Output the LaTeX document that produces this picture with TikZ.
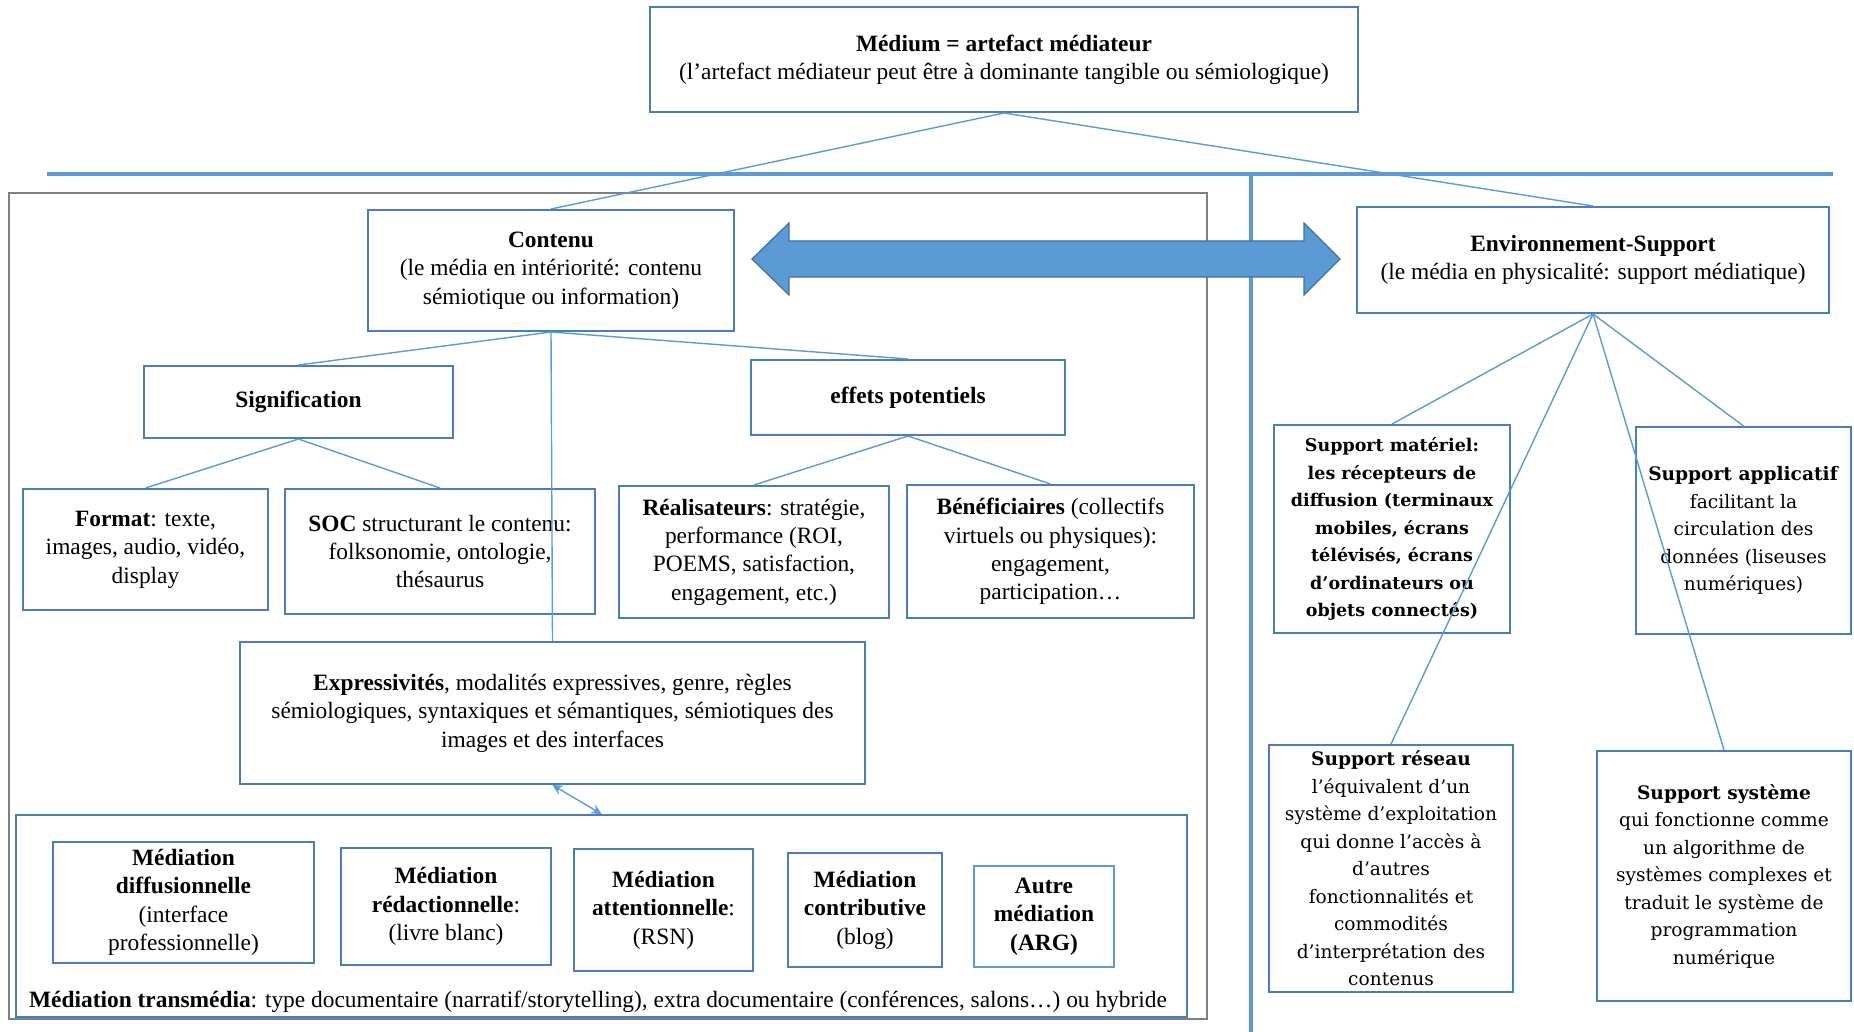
\documentclass[tikz,border=0pt]{standalone}
\usepackage{fontspec}
\setmainfont{Liberation Serif}
\newfontfamily\seriflarge{DejaVu Serif}
\usetikzlibrary{arrows.meta}

\definecolor{bleubord}{HTML}{4A7EBB}
\definecolor{bleuclair}{HTML}{5B9BD5}
\definecolor{bleufonce}{HTML}{41719C}

\tikzset{
    boite/.style={draw=bleubord, line width=2pt, align=center, inner sep=0pt,
        font=\fontsize{23.4}{28.4}\selectfont},
    boitesupport/.style={boite, font=\seriflarge\fontsize{18.6}{27.5}\selectfont},
    boitegras/.style={boite, font=\seriflarge\bfseries\fontsize{17.5}{27.5}\selectfont},
    trait/.style={draw=bleuclair, line width=1.4pt},
    barre/.style={draw=bleuclair, line width=4.5pt}
}

\begin{document}
\begin{tikzpicture}[x=1pt,y=-1pt]
        \useasboundingbox (0,0) rectangle (1854,1032);

        %%%%%%%%%% Cadres %%%%%%%%%%
        \draw[barre] (47,174) -- (1833,174);
        \draw[barre] (1251,174) -- (1251,1032);
        \draw[gray, line width=1.5pt] (9,193) rectangle (1207,1019);

        %%%%%%%%%% Noeuds %%%%%%%%%%
        \node[boite, minimum width=708, minimum height=105] (medium) at (1004,59.5)
            {\textbf{Médium = artefact médiateur}\\(l’artefact médiateur peut être à dominante tangible ou sémiologique)};
        \node[boite, minimum width=366, minimum height=121] (contenu) at (551,270.5)
            {\textbf{Contenu}\\(le média en intériorité: contenu\\sémiotique ou information)};
        \node[boite, minimum width=472, minimum height=106] (environnement) at (1593,260)
            {\textbf{Environnement-Support}\\(le média en physicalité: support médiatique)};

        \node[boite, minimum width=309, minimum height=72] (signification) at (298.5,402)
            {\textbf{Signification}};
        \node[boite, minimum width=314, minimum height=75] (effets) at (908,397.5)
            {\textbf{effets potentiels}};

        \node[boite, minimum width=245, minimum height=121] (format) at (145.5,549.5)
            {\textbf{Format}: texte,\\images, audio, vidéo,\\display};
        \node[boite, minimum width=310, minimum height=125] (soc) at (440,551.5)
            {\textbf{SOC} structurant le contenu:\\folksonomie, ontologie,\\thésaurus};
        \node[boite, minimum width=270, minimum height=132] (realisateurs) at (754,552)
            {\textbf{Réalisateurs}: stratégie,\\performance (ROI,\\POEMS, satisfaction,\\engagement, etc.)};
        \node[boite, minimum width=287, minimum height=133] (beneficiaires) at (1050.5,551.5)
            {\textbf{Bénéficiaires} (collectifs\\virtuels ou physiques):\\engagement,\\participation…};

        \node[boite, minimum width=625, minimum height=142] (expressivites) at (552.5,713)
            {\textbf{Expressivités}, modalités expressives, genre, règles\\sémiologiques, syntaxiques et sémantiques, sémiotiques des\\images et des interfaces};

        \node[boite, minimum width=1171, minimum height=202] (transmedia) at (601.5,916) {};
        \node[font=\fontsize{23.4}{28.4}\selectfont] (legende) at (598,1002)
            {\textbf{Médiation transmédia}: type documentaire (narratif/storytelling), extra documentaire (conférences, salons…) ou hybride};

        \node[boite, minimum width=261, minimum height=121] (diffusionnelle) at (183.5,902.5)
            {\textbf{Médiation}\\\textbf{diffusionnelle}\\(interface\\professionnelle)};
        \node[boite, minimum width=210, minimum height=117] (redactionnelle) at (446,906.5)
            {\textbf{Médiation}\\\textbf{rédactionnelle}:\\(livre blanc)};
        \node[boite, minimum width=179, minimum height=122] (attentionnelle) at (663.5,910)
            {\textbf{Médiation}\\\textbf{attentionnelle}:\\(RSN)};
        \node[boite, minimum width=154, minimum height=114] (contributive) at (865,910)
            {\textbf{Médiation}\\\textbf{contributive}\\(blog)};
        \node[boite, draw=bleuclair, minimum width=140, minimum height=101] (autre) at (1044,916.5)
            {\textbf{Autre}\\\textbf{médiation}\\\textbf{(ARG)}};

        \node[boitegras, minimum width=236, minimum height=208] (materiel) at (1392,529)
            {Support matériel:\\les récepteurs de\\diffusion (terminaux\\mobiles, écrans\\télévisés, écrans\\d’ordinateurs ou\\objets connectés)};
        \node[boitesupport, minimum width=215, minimum height=207] (applicatif) at (1743.5,530.5)
            {\textbf{Support applicatif}\\facilitant la\\circulation des\\données (liseuses\\numériques)};
        \node[boitesupport, minimum width=244, minimum height=247] (reseau) at (1391,868.5)
            {\textbf{Support réseau}\\l’équivalent d’un\\système d’exploitation\\qui donne l’accès à\\d’autres\\fonctionnalités et\\commodités\\d’interprétation des\\contenus};
        \node[boitesupport, minimum width=254, minimum height=250] (systeme) at (1724,876)
            {\textbf{Support système}\\qui fonctionne comme\\un algorithme de\\systèmes complexes et\\traduit le système de\\programmation\\numérique};

        %%%%%%%%% Traits %%%%%%%%%
        \draw[trait] (medium.south) -- (contenu.north);
        \draw[trait] (medium.south) -- (environnement.north);

        \draw[trait] (contenu.south) -- (signification.north);
        \draw[trait] (contenu.south) -- (effets.north);
        \draw[trait] (contenu.south) -- (expressivites.north);

        \foreach \n in {format,soc}
            \draw[trait] (signification.south) -- (\n.north);
        \foreach \n in {realisateurs,beneficiaires}
            \draw[trait] (effets.south) -- (\n.north);
        \foreach \n in {materiel,reseau,systeme,applicatif}
            \draw[trait] (environnement.south) -- (\n.north);

        \draw[trait,<->,>={Stealth[length=10pt,width=10pt]}] (expressivites.south) -- (transmedia.north);

        %%%%%%%%% Fleche %%%%%%%%%
        \draw[fill=bleuclair, draw=bleufonce, line width=1.2pt]
            (752,259) -- (789,223) -- (789,241) -- (1304,241) -- (1304,223) -- (1340,259)
            -- (1304,295) -- (1304,277) -- (789,277) -- (789,295) -- cycle;
    \end{tikzpicture}
\end{document}
